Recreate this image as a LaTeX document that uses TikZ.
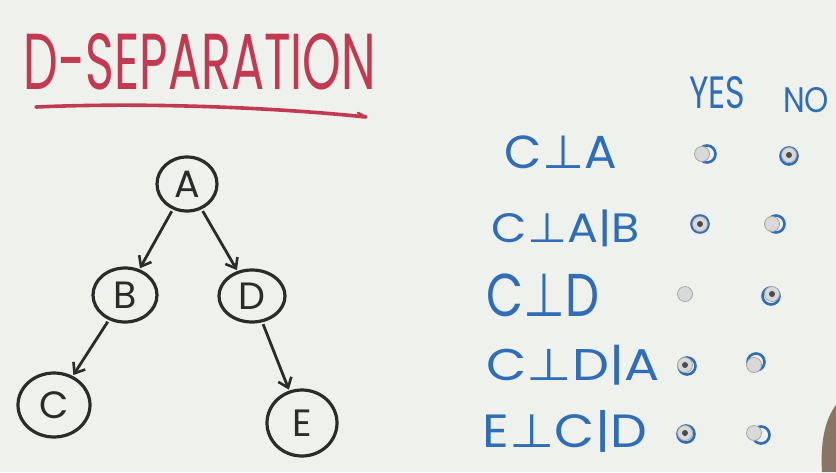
\documentclass[tikz,border=0pt]{standalone}
\usepackage{fontspec}
\setmainfont{Poppins}
\newfontfamily\symfont{DejaVu Sans}
\usetikzlibrary{arrows.meta,shapes.geometric}
\definecolor{board}{HTML}{EEF1EC}
\definecolor{titlered}{HTML}{C23A52}
\definecolor{inkblue}{HTML}{2F6DB6}
\definecolor{ink}{HTML}{2B2B2B}
\definecolor{radiogray}{HTML}{D9D9D9}
\newcommand{\pp}{{\symfont ⊥}}
\tikzset{
  gnode/.style={ellipse, draw=ink, line width=3.2pt, inner sep=0pt, font=\fontsize{38}{38}\selectfont, text=ink},
  gedge/.style={draw=ink, line width=2.8pt, -{Straight Barb[length=9pt,width=14pt,line width=2.6pt]}, shorten <=2pt, shorten >=1pt},
  btxt/.style={inner sep=0pt, text=inkblue, anchor=center},
  radio/.style={circle, minimum size=15pt, inner sep=0pt, draw=gray!70, fill=radiogray, line width=0.8pt},
  scrib/.style={circle, minimum size=17pt, inner sep=0pt, draw=inkblue, line width=2.6pt},
  dotc/.style={circle, minimum size=6pt, inner sep=0pt, fill=ink!85}
}
\begin{document}
\begin{tikzpicture}[x=1pt,y=-1pt]
\fill[board] (0,0) rectangle (836,472);
\useasboundingbox (0,0) rectangle (836,472);
% hand at bottom right
\fill[brown!45!black!70] (836,405) .. controls (826,418) and (820,440) .. (822,472) -- (836,472) -- cycle;
% title
\node[inner sep=0pt, text=titlered] (title) at (200,62) {\resizebox{352pt}{56pt}{D-SEPARATION}};
\draw[titlered, line width=3.6pt, line cap=round] (36,107) .. controls (150,102) and (280,108) .. (366,117) coordinate (ul);
\draw[titlered, line width=2.5pt, line cap=round] (ul) -- ++(-8,-4);
% graph
\node[gnode, minimum width=60pt, minimum height=54pt] (A) at (187,184) {A};
\node[gnode, minimum width=64pt, minimum height=54pt] (B) at (125,295) {B};
\node[gnode, minimum width=66pt, minimum height=52pt] (D) at (252,296) {D};
\node[gnode, minimum width=72pt, minimum height=64pt] (C) at (54,405) {C};
\node[gnode, minimum width=70pt, minimum height=66pt] (E) at (302,423) {E};
\draw[gedge] (A) -- (B);
\draw[gedge] (A) -- (D);
\draw[gedge] (B) -- (C);
\draw[gedge] (D) -- (E);
% headers
\node[btxt] (yes) at (717,93) {\resizebox{56pt}{32pt}{YES}};
\node[btxt] (no) at (806,100) {\resizebox{46pt}{25pt}{NO}};
% rows
\node[btxt] (r1) at (561,152) {\resizebox*{112pt}{33pt}{C\pp A}};
\node[btxt] (r2) at (566,228) {\resizebox*{148pt}{37pt}{C\pp A|B}};
\node[btxt] (r3) at (543,295) {\resizebox*{113pt}{43pt}{C\pp D}};
\node[btxt] (r4) at (573,365) {\resizebox*{173pt}{40pt}{C\pp D|A}};
\node[btxt] (r5) at (565,431) {\resizebox*{164pt}{42pt}{E\pp C|D}};
% radio scribbles
\node[scrib] (s1y) at (707,154) {};
\node[scrib] (s1n) at (789,156) {};
\node[scrib] (s2y) at (700,224) {};
\node[scrib] (s2n) at (776,224) {};
\node[scrib] (s3n) at (771,296) {};
\node[scrib] (s4y) at (687,366) {};
\node[scrib] (s4n) at (756,362) {};
\node[scrib] (s5y) at (686,434) {};
\node[scrib] (s5n) at (761,435) {};
% radio buttons
\node[radio] (b1y) at (702,154) {};
\node[radio] (b1n) at (789,155) {};
\node[radio] (b2y) at (700,224) {};
\node[radio] (b2n) at (772,224) {};
\node[radio] (b3y) at (685,294) {};
\node[radio] (b3n) at (772,294) {};
\node[radio] (b4y) at (685,365) {};
\node[radio] (b4n) at (754,365) {};
\node[radio] (b5y) at (685,433) {};
\node[radio] (b5n) at (754,433) {};
% selected dots
\node[dotc] at (b1n) {};
\node[dotc] at (b2y) {};
\node[dotc] at (b3n) {};
\node[dotc] at (b4y) {};
\node[dotc] at (b5y) {};
\end{tikzpicture}
\end{document}
